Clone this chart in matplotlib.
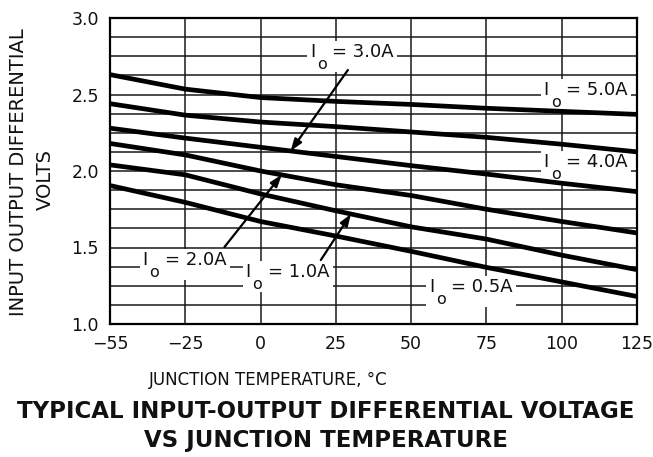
import numpy as np
import matplotlib
matplotlib.use("Agg")
import matplotlib.pyplot as plt
from matplotlib.patches import Rectangle
from matplotlib.transforms import ScaledTranslation
from matplotlib.ticker import FixedLocator, MultipleLocator

# Junction temperature (deg C) and input-output differential voltage per load current
temps = [-55, -25, 0, 25, 50, 75, 100, 125]
v_5a = [2.63, 2.535, 2.48, 2.455, 2.435, 2.41, 2.39, 2.37]
v_4a = [2.44, 2.365, 2.32, 2.29, 2.255, 2.22, 2.175, 2.125]
v_3a = [2.28, 2.215, 2.155, 2.095, 2.035, 1.98, 1.92, 1.865]
v_2a = [2.18, 2.105, 2.0, 1.91, 1.84, 1.75, 1.67, 1.595]
v_1a = [2.04, 1.975, 1.85, 1.74, 1.635, 1.555, 1.45, 1.355]
v_05a = [1.905, 1.795, 1.67, 1.575, 1.475, 1.37, 1.275, 1.18]

currents = ["5.0A", "4.0A", "3.0A", "2.0A", "1.0A", "0.5A"]
series = [v_5a, v_4a, v_3a, v_2a, v_1a, v_05a]

x_ticks = [-55, -25, 0, 25, 50, 75, 100, 125]
y_ticks = [1.0, 1.5, 2.0, 2.5, 3.0]

plt.rcParams["font.family"] = ["DejaVu Sans"]

fig = plt.figure(figsize=(6.53, 4.57), dpi=100)
ax = fig.add_axes([110 / 653, 1 - 324 / 457, 527 / 653, 306 / 457])


# The first interval (-55 .. -25) is drawn as wide as the other 25-degree steps
def fwd(x):
    x = np.asarray(x, float)
    return np.where(x < -25, -25 + (x + 25) * 25 / 30, x)


def inv(u):
    u = np.asarray(u, float)
    return np.where(u < -25, -25 + (u + 25) * 30 / 25, u)


ax.set_xscale("function", functions=(fwd, inv))
ax.set_xlim(-55, 125)
ax.set_ylim(1.0, 3.0)

ax.xaxis.set_major_locator(FixedLocator(x_ticks))
ax.set_xticklabels([f"{t:g}".replace("-", "\u2212") for t in x_ticks])
ax.yaxis.set_major_locator(FixedLocator(y_ticks))
ax.set_yticklabels([f"{t:.1f}" for t in y_ticks])
ax.yaxis.set_minor_locator(MultipleLocator(0.125))

ax.grid(True, which="both", color="#1a1a1a", lw=1.1)
ax.set_axisbelow(True)
for s in ax.spines.values():
    s.set_linewidth(1.6)
ax.tick_params(which="both", length=0, labelsize=12.5, colors="#111")
ax.tick_params(axis="x", pad=8)
ax.tick_params(axis="y", pad=8)

for vals in series:
    ax.plot(temps, vals, color="black", lw=3.4, solid_capstyle="butt", zorder=3)


def label(text, x, y):
    # white backing (over the grid, under the curves), sized in inches around the anchor
    anchor = fig.dpi_scale_trans + ScaledTranslation(x, y, ax.transData)
    ax.add_patch(Rectangle((-0.03, -0.15), 0.90, 0.31, transform=anchor,
                           facecolor="white", edgecolor="none", zorder=2))
    # "I" with a dropped subscript "o", followed by "= value"
    ax.text(x, y, "I", fontsize=13, ha="left", va="baseline",
            color="#111", zorder=5)
    ax.annotate("o", xy=(x, y), xytext=(7, -12), textcoords="offset pixels",
                fontsize=11.5, ha="left", va="baseline", color="#111", zorder=5)
    ax.annotate("= " + text, xy=(x, y), xytext=(22, 0), textcoords="offset pixels",
                fontsize=13, ha="left", va="baseline", color="#111", zorder=5)


def arrow(curve, t_tip, start):
    tip = (t_tip, float(np.interp(t_tip, temps, curve)))
    ax.annotate("", xy=tip, xytext=start, zorder=6,
                arrowprops=dict(arrowstyle="-|>,head_length=0.7,head_width=0.25",
                                color="black", lw=1.6, shrinkA=0, shrinkB=0))


label(currents[0], 94, 2.497)
label(currents[1], 94, 2.026)
label(currents[2], 16.5, 2.745)
label(currents[3], -42, 1.386)
label(currents[4], -5, 1.307)
label(currents[5], 56, 1.209)

arrow(v_3a, 10, (29, 2.66))
arrow(v_2a, 7, (-12, 1.503))
arrow(v_1a, 30, (20, 1.418))

fig.text(19 / 653, 1 - 172 / 457, "INPUT OUTPUT DIFFERENTIAL", rotation=90,
         ha="center", va="center", fontsize=14, color="#111")
fig.text(45 / 653, 1 - 180 / 457, "VOLTS", rotation=90,
         ha="center", va="center", fontsize=14, color="#111")
fig.text(268 / 653, 1 - 380 / 457, "JUNCTION TEMPERATURE, °C",
         ha="center", va="center", fontsize=12, color="#111")

fig.text(326 / 653, 1 - 412 / 457, "TYPICAL INPUT-OUTPUT DIFFERENTIAL VOLTAGE",
         ha="center", va="center", fontsize=16.5, fontweight="bold",
         color="#111")
fig.text(326 / 653, 1 - 440 / 457, "VS JUNCTION TEMPERATURE",
         ha="center", va="center", fontsize=16.5, fontweight="bold",
         color="#111")

fig.savefig("out.png", dpi=100)
